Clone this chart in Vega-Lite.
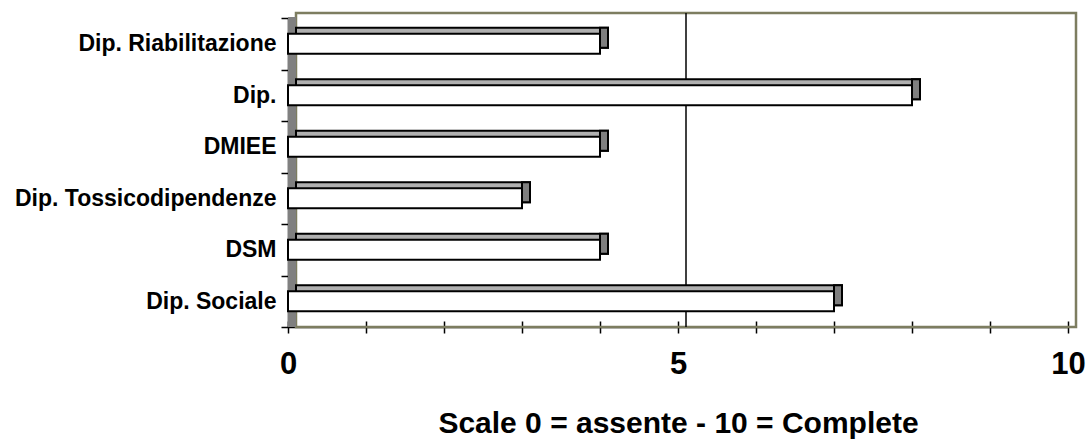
{
  "$schema": "https://vega.github.io/schema/vega-lite/v6.json",
  "width": 780,
  "height": 309,
  "autosize": {"type": "none"},
  "padding": {"left": 288, "top": 18, "right": 20, "bottom": 112},
  "background": "white",
  "config": {"view": {"stroke": null}, "font": "Liberation Sans"},
  "data": {
    "values": [
      {"dept": "Dip. Riabilitazione", "score": 4},
      {"dept": "Dip.", "score": 8},
      {"dept": "DMIEE", "score": 4},
      {"dept": "Dip. Tossicodipendenze", "score": 3},
      {"dept": "DSM", "score": 4},
      {"dept": "Dip. Sociale", "score": 7}
    ]
  },
  "resolve": {"axis": {"x": "independent"}},
  "layer": [
    {
      "data": {"values": [{}]},
      "mark": {"type": "rect", "fill": "transparent", "stroke": "#7d7d60", "strokeWidth": 2.5, "xOffset": 8, "x2Offset": 8, "yOffset": -5, "y2Offset": -5},
      "encoding": {
        "x": {"datum": 0, "type": "quantitative", "scale": {"domain": [0, 10], "nice": false}, "axis": null},
        "x2": {"datum": 10}
      }
    },
    {
      "data": {"values": [{}]},
      "mark": {"type": "rule", "stroke": "black", "strokeWidth": 1.5, "xOffset": 8, "yOffset": -5, "y2Offset": -5},
      "encoding": {
        "x": {"datum": 5, "type": "quantitative", "axis": {"orient": "bottom", "values": [0,1,2,3,4,5,6,7,8,9,10], "tickSize": -6, "tickColor": "black", "tickWidth": 1.5, "labels": false, "domain": false, "grid": false, "title": null}}
      }
    },
    {
      "data": {"values": [{}]},
      "mark": {"type": "rect", "fill": "#808080", "stroke": null, "x2Offset": 8, "yOffset": -1, "y2Offset": -3},
      "encoding": {
        "x": {"datum": 0, "type": "quantitative", "axis": null},
        "x2": {"datum": 0}
      }
    },
    {
      "encoding": {
        "y": {
          "field": "dept", "type": "nominal", "sort": null, "title": null,
          "scale": {"paddingInner": 0, "paddingOuter": 0},
          "axis": {"tickBand": "extent", "tickSize": 7, "tickColor": "black", "tickWidth": 1.5, "domainColor": "black", "domainWidth": 1.5, "labelFont": "Liberation Sans", "labelFontWeight": "bold", "labelFontSize": 23, "labelColor": "black", "labelPadding": 5, "labelLimit": 400}
        },
        "x": {
          "field": "score", "type": "quantitative",
          "title": "Scale 0 = assente - 10 = Complete",
          "axis": {"orient": "bottom", "values": [0,1,2,3,4,5,6,7,8,9,10], "labelExpr": "datum.value % 5 === 0 ? datum.label : ''", "grid": false, "tickSize": 6, "tickColor": "black", "tickWidth": 1.5, "domainColor": "black", "domainWidth": 1.5, "labelFont": "Liberation Sans", "labelFontSize": 31, "labelFontWeight": "bold", "labelColor": "black", "labelPadding": 16, "labelFlush": false, "labelOverlap": false, "titleFont": "Liberation Sans", "titleFontSize": 30, "titleFontWeight": "bold", "titleColor": "black", "titlePadding": 29}
        }
      },
      "layer": [
        {"mark": {"type": "bar", "height": {"band": 0.39}, "fill": "#b0b0b0", "stroke": "black", "strokeWidth": 2, "xOffset": 8, "x2Offset": 8, "yOffset": -6, "y2Offset": -6}},
        {"mark": {"type": "bar", "height": {"band": 0.39}, "fill": "#7f7f7f", "stroke": "black", "strokeWidth": 2, "x2Offset": 8, "yOffset": -6, "y2Offset": -6}, "encoding": {"x2": {"field": "score"}}},
        {"mark": {"type": "bar", "height": {"band": 0.39}, "fill": "white", "stroke": "black", "strokeWidth": 2}}
      ]
    }
  ]
}
